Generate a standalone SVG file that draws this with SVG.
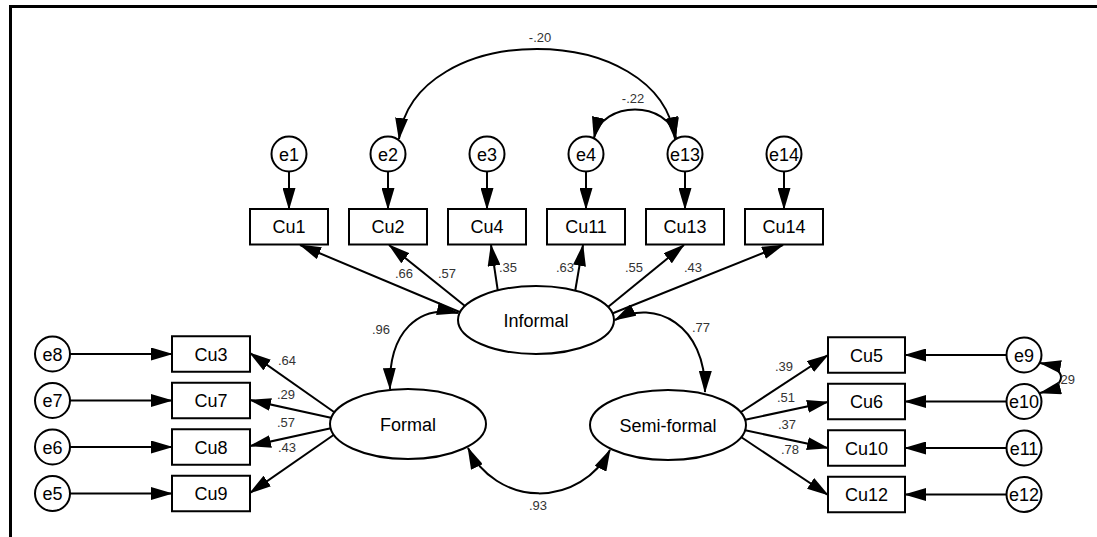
<svg xmlns="http://www.w3.org/2000/svg" width="1097" height="537" viewBox="0 0 1097 537">
<style>
.ln{fill:none;stroke:#000;stroke-width:2}
.ar{marker-end:url(#ah)}
.dbl{marker-start:url(#ah);marker-end:url(#ah)}
.nd{fill:#fff;stroke:#000;stroke-width:2}
.t{font-family:"Liberation Sans",Arial,sans-serif;font-size:18px;fill:#000;text-anchor:middle}
.lb{font-family:"Liberation Sans",Arial,sans-serif;font-size:13px;fill:#333;text-anchor:middle}
</style>
<defs>
<marker id="ah" viewBox="0 0 22 13" refX="21" refY="6.5" markerWidth="22" markerHeight="13" markerUnits="userSpaceOnUse" orient="auto-start-reverse">
<path d="M0,0 L22,6.5 L0,13 z" fill="#000"/>
</marker>
</defs>
<rect width="1097" height="537" fill="#fff"/>
<path d="M1097,6.5 H10.5 V537" fill="none" stroke="#000" stroke-width="3"/>
<g id="connectors">
<!-- error to top boxes -->
<line class="ln ar" x1="289" y1="171.5" x2="289" y2="209"/>
<line class="ln ar" x1="388" y1="171.5" x2="388" y2="209"/>
<line class="ln ar" x1="487" y1="171.5" x2="487" y2="209"/>
<line class="ln ar" x1="586" y1="171.5" x2="586" y2="209"/>
<line class="ln ar" x1="685" y1="171.5" x2="685" y2="209"/>
<line class="ln ar" x1="784" y1="171.5" x2="784" y2="209"/>
<!-- Informal to top boxes -->
<line class="ln ar" x1="462" y1="313" x2="300" y2="245"/>
<line class="ln ar" x1="465" y1="306" x2="389" y2="245"/>
<line class="ln ar" x1="498" y1="292" x2="491" y2="245"/>
<line class="ln ar" x1="575" y1="292" x2="583" y2="245"/>
<line class="ln ar" x1="608" y1="307" x2="684" y2="245"/>
<line class="ln ar" x1="611" y1="314" x2="783" y2="245"/>
<!-- left errors -->
<line class="ln ar" x1="70" y1="354" x2="172" y2="354"/>
<line class="ln ar" x1="70" y1="400.5" x2="172" y2="400.5"/>
<line class="ln ar" x1="70" y1="447" x2="172" y2="447"/>
<line class="ln ar" x1="70" y1="493.5" x2="172" y2="493.5"/>
<!-- Formal to left boxes -->
<line class="ln ar" x1="334" y1="412" x2="250" y2="353"/>
<line class="ln ar" x1="332" y1="418" x2="250" y2="400"/>
<line class="ln ar" x1="332" y1="428" x2="250" y2="446"/>
<line class="ln ar" x1="335" y1="434" x2="250" y2="493"/>
<!-- right errors -->
<line class="ln ar" x1="1006.5" y1="355" x2="905" y2="355"/>
<line class="ln ar" x1="1006.5" y1="401.5" x2="905" y2="401.5"/>
<line class="ln ar" x1="1006.5" y1="448" x2="905" y2="448"/>
<line class="ln ar" x1="1006.5" y1="494.5" x2="905" y2="494.5"/>
<!-- Semi-formal to right boxes -->
<line class="ln ar" x1="741" y1="412" x2="828" y2="355"/>
<line class="ln ar" x1="744" y1="420" x2="828" y2="402"/>
<line class="ln ar" x1="744" y1="430" x2="828" y2="448"/>
<line class="ln ar" x1="741" y1="437" x2="828" y2="495"/>
<!-- covariances -->
<path class="ln dbl" d="M458,313 C420,305 388,330 390,389"/>
<path class="ln dbl" d="M615,320 C655,298 706,325 705,392"/>
<path class="ln dbl" d="M468,448 A79,79 0 0 0 610,450"/>
<path class="ln dbl" d="M399,139 C414,19 660,19 675,139"/>
<path class="ln dbl" d="M594,138 C602,100 668,100 676,138"/>
<path class="ln dbl" d="M1040,363 C1068,368 1068,386 1040,393"/>
</g>
<g id="Informal"><ellipse class="nd" cx="536" cy="320" rx="78" ry="34"/><text class="t" x="536" y="326.5">Informal</text></g>
<g id="Formal"><ellipse class="nd" cx="408" cy="424" rx="78" ry="35"/><text class="t" x="408" y="430.5">Formal</text></g>
<g id="Semi-formal"><ellipse class="nd" cx="668" cy="425" rx="78" ry="35"/><text class="t" x="668" y="431.5">Semi-formal</text></g>
<g id="Cu1"><rect class="nd" x="250" y="209" width="78" height="35.5"/><text class="t" x="289" y="233">Cu1</text></g>
<g id="Cu2"><rect class="nd" x="349" y="209" width="78" height="35.5"/><text class="t" x="388" y="233">Cu2</text></g>
<g id="Cu4"><rect class="nd" x="448" y="209" width="78" height="35.5"/><text class="t" x="487" y="233">Cu4</text></g>
<g id="Cu11"><rect class="nd" x="547" y="209" width="78" height="35.5"/><text class="t" x="586" y="233">Cu11</text></g>
<g id="Cu13"><rect class="nd" x="646" y="209" width="78" height="35.5"/><text class="t" x="685" y="233">Cu13</text></g>
<g id="Cu14"><rect class="nd" x="745" y="209" width="78" height="35.5"/><text class="t" x="784" y="233">Cu14</text></g>
<g id="e1"><circle class="nd" cx="289" cy="154" r="17.5"/><text class="t" x="289" y="160.5">e1</text></g>
<g id="e2"><circle class="nd" cx="388" cy="154" r="17.5"/><text class="t" x="388" y="160.5">e2</text></g>
<g id="e3"><circle class="nd" cx="487" cy="154" r="17.5"/><text class="t" x="487" y="160.5">e3</text></g>
<g id="e4"><circle class="nd" cx="586" cy="154" r="17.5"/><text class="t" x="586" y="160.5">e4</text></g>
<g id="e13"><circle class="nd" cx="685" cy="154" r="17.5"/><text class="t" x="685" y="160.5">e13</text></g>
<g id="e14"><circle class="nd" cx="784" cy="154" r="17.5"/><text class="t" x="784" y="160.5">e14</text></g>
<g id="Cu3"><rect class="nd" x="172" y="336.25" width="78" height="35.5"/><text class="t" x="211" y="360.5">Cu3</text></g>
<g id="Cu7"><rect class="nd" x="172" y="382.75" width="78" height="35.5"/><text class="t" x="211" y="407">Cu7</text></g>
<g id="Cu8"><rect class="nd" x="172" y="429.25" width="78" height="35.5"/><text class="t" x="211" y="453.5">Cu8</text></g>
<g id="Cu9"><rect class="nd" x="172" y="475.75" width="78" height="35.5"/><text class="t" x="211" y="500">Cu9</text></g>
<g id="e8"><circle class="nd" cx="52.5" cy="354" r="17.5"/><text class="t" x="52.5" y="360.5">e8</text></g>
<g id="e7"><circle class="nd" cx="52.5" cy="400.5" r="17.5"/><text class="t" x="52.5" y="407">e7</text></g>
<g id="e6"><circle class="nd" cx="52.5" cy="447" r="17.5"/><text class="t" x="52.5" y="453.5">e6</text></g>
<g id="e5"><circle class="nd" cx="52.5" cy="493.5" r="17.5"/><text class="t" x="52.5" y="500">e5</text></g>
<g id="Cu5"><rect class="nd" x="828" y="337.25" width="77" height="35.5"/><text class="t" x="866.5" y="361.5">Cu5</text></g>
<g id="Cu6"><rect class="nd" x="828" y="383.75" width="77" height="35.5"/><text class="t" x="866.5" y="408">Cu6</text></g>
<g id="Cu10"><rect class="nd" x="828" y="430.25" width="77" height="35.5"/><text class="t" x="866.5" y="454.5">Cu10</text></g>
<g id="Cu12"><rect class="nd" x="828" y="476.75" width="77" height="35.5"/><text class="t" x="866.5" y="501">Cu12</text></g>
<g id="e9"><circle class="nd" cx="1024" cy="355" r="17.5"/><text class="t" x="1024" y="361.5">e9</text></g>
<g id="e10"><circle class="nd" cx="1024" cy="401.5" r="17.5"/><text class="t" x="1024" y="408">e10</text></g>
<g id="e11"><circle class="nd" cx="1024" cy="448" r="17.5"/><text class="t" x="1024" y="454.5">e11</text></g>
<g id="e12"><circle class="nd" cx="1024" cy="494.5" r="17.5"/><text class="t" x="1024" y="501">e12</text></g>
<g id="labels">
<text class="lb" x="540" y="41.5">-.20</text>
<text class="lb" x="633" y="102.5">-.22</text>
<text class="lb" x="404" y="277.5">.66</text>
<text class="lb" x="447" y="277.5">.57</text>
<text class="lb" x="508" y="271.5">.35</text>
<text class="lb" x="565" y="271.5">.63</text>
<text class="lb" x="634" y="271.5">.55</text>
<text class="lb" x="693" y="271.5">.43</text>
<text class="lb" x="381" y="333.5">.96</text>
<text class="lb" x="701" y="331.5">.77</text>
<text class="lb" x="538" y="509.5">.93</text>
<text class="lb" x="287" y="364.5">.64</text>
<text class="lb" x="286" y="398.5">.29</text>
<text class="lb" x="286" y="426.5">.57</text>
<text class="lb" x="287" y="451.5">.43</text>
<text class="lb" x="784" y="370.5">.39</text>
<text class="lb" x="786" y="401.5">.51</text>
<text class="lb" x="787" y="428.5">.37</text>
<text class="lb" x="790" y="453.5">.78</text>
<text class="lb" x="1066" y="383.5">.29</text>
</g>
</svg>
